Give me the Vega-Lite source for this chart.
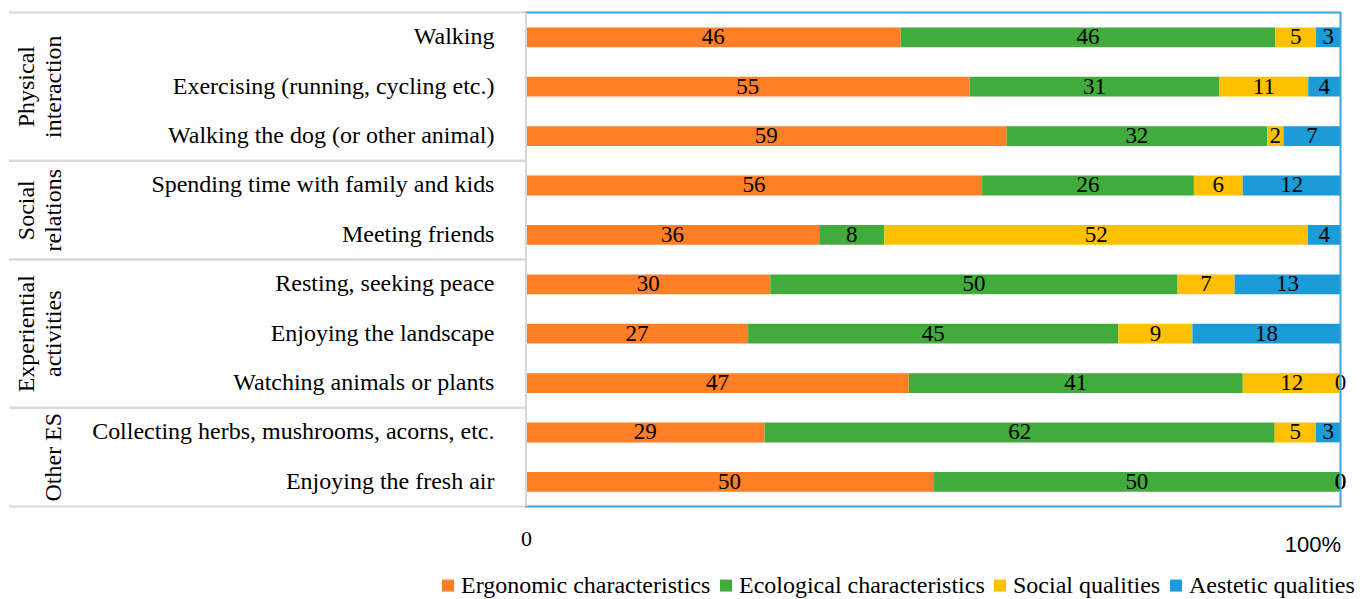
{
  "$schema": "https://vega.github.io/schema/vega-lite/v6.json",
  "width": 1331.5,
  "height": 494,
  "padding": {"left": 8, "top": 10.6, "right": 0, "bottom": 0},
  "background": "white",
  "config": {"view": {"stroke": null}, "font": "Liberation Serif"},
  "datasets": {
    "bars": [
      {"activity": "Walking", "quality": "Ergonomic characteristics", "value": 46},
      {"activity": "Walking", "quality": "Ecological characteristics", "value": 46},
      {"activity": "Walking", "quality": "Social qualities", "value": 5},
      {"activity": "Walking", "quality": "Aestetic qualities", "value": 3},
      {"activity": "Exercising (running, cycling etc.)", "quality": "Ergonomic characteristics", "value": 55},
      {"activity": "Exercising (running, cycling etc.)", "quality": "Ecological characteristics", "value": 31},
      {"activity": "Exercising (running, cycling etc.)", "quality": "Social qualities", "value": 11},
      {"activity": "Exercising (running, cycling etc.)", "quality": "Aestetic qualities", "value": 4},
      {"activity": "Walking the dog (or other animal)", "quality": "Ergonomic characteristics", "value": 59},
      {"activity": "Walking the dog (or other animal)", "quality": "Ecological characteristics", "value": 32},
      {"activity": "Walking the dog (or other animal)", "quality": "Social qualities", "value": 2},
      {"activity": "Walking the dog (or other animal)", "quality": "Aestetic qualities", "value": 7},
      {"activity": "Spending time with family and kids", "quality": "Ergonomic characteristics", "value": 56},
      {"activity": "Spending time with family and kids", "quality": "Ecological characteristics", "value": 26},
      {"activity": "Spending time with family and kids", "quality": "Social qualities", "value": 6},
      {"activity": "Spending time with family and kids", "quality": "Aestetic qualities", "value": 12},
      {"activity": "Meeting friends", "quality": "Ergonomic characteristics", "value": 36},
      {"activity": "Meeting friends", "quality": "Ecological characteristics", "value": 8},
      {"activity": "Meeting friends", "quality": "Social qualities", "value": 52},
      {"activity": "Meeting friends", "quality": "Aestetic qualities", "value": 4},
      {"activity": "Resting, seeking peace", "quality": "Ergonomic characteristics", "value": 30},
      {"activity": "Resting, seeking peace", "quality": "Ecological characteristics", "value": 50},
      {"activity": "Resting, seeking peace", "quality": "Social qualities", "value": 7},
      {"activity": "Resting, seeking peace", "quality": "Aestetic qualities", "value": 13},
      {"activity": "Enjoying the landscape", "quality": "Ergonomic characteristics", "value": 27},
      {"activity": "Enjoying the landscape", "quality": "Ecological characteristics", "value": 45},
      {"activity": "Enjoying the landscape", "quality": "Social qualities", "value": 9},
      {"activity": "Enjoying the landscape", "quality": "Aestetic qualities", "value": 18},
      {"activity": "Watching animals or plants", "quality": "Ergonomic characteristics", "value": 47},
      {"activity": "Watching animals or plants", "quality": "Ecological characteristics", "value": 41},
      {"activity": "Watching animals or plants", "quality": "Social qualities", "value": 12},
      {"activity": "Watching animals or plants", "quality": "Aestetic qualities", "value": 0},
      {"activity": "Collecting herbs, mushrooms, acorns, etc.", "quality": "Ergonomic characteristics", "value": 29},
      {"activity": "Collecting herbs, mushrooms, acorns, etc.", "quality": "Ecological characteristics", "value": 62},
      {"activity": "Collecting herbs, mushrooms, acorns, etc.", "quality": "Social qualities", "value": 5},
      {"activity": "Collecting herbs, mushrooms, acorns, etc.", "quality": "Aestetic qualities", "value": 3},
      {"activity": "Enjoying the fresh air", "quality": "Ergonomic characteristics", "value": 50},
      {"activity": "Enjoying the fresh air", "quality": "Ecological characteristics", "value": 50},
      {"activity": "Enjoying the fresh air", "quality": "Social qualities", "value": 0},
      {"activity": "Enjoying the fresh air", "quality": "Aestetic qualities", "value": 0}
    ],
    "groups": [
      {"group": "Physical\ninteraction", "first": "Walking", "anchor": "Exercising (running, cycling etc.)", "last": "Walking the dog (or other animal)", "rows": 3},
      {"group": "Social\nrelations", "first": "Spending time with family and kids", "anchor": "Spending time with family and kids", "last": "Meeting friends", "rows": 2},
      {"group": "Experiential\nactivities", "first": "Resting, seeking peace", "anchor": "Enjoying the landscape", "last": "Watching animals or plants", "rows": 3},
      {"group": "\nOther ES", "first": "Collecting herbs, mushrooms, acorns, etc.", "anchor": "Collecting herbs, mushrooms, acorns, etc.", "last": "Enjoying the fresh air", "rows": 2}
    ],
    "one": [{}]
  },
  "layer": [
    {
      "data": {"name": "bars"},
      "transform": [
        {"calculate": "indexof(['Ergonomic characteristics','Ecological characteristics','Social qualities','Aestetic qualities'], datum.quality)", "as": "qorder"}
      ],
      "mark": {"type": "bar"},
      "encoding": {
        "y": {
          "field": "activity", "type": "nominal",
          "scale": {
            "domain": ["Walking", "Exercising (running, cycling etc.)", "Walking the dog (or other animal)", "Spending time with family and kids", "Meeting friends", "Resting, seeking peace", "Enjoying the landscape", "Watching animals or plants", "Collecting herbs, mushrooms, acorns, etc.", "Enjoying the fresh air"],
            "paddingInner": 0.6, "paddingOuter": 0.3
          },
          "axis": null
        },
        "x": {
          "field": "value", "type": "quantitative", "stack": "normalize",
          "scale": {"domain": [-0.6347, 1], "nice": false, "zero": false},
          "axis": {
            "values": [0, 1],
            "title": null,
            "domain": false,
            "ticks": false,
            "grid": false,
            "labelFlush": true,
            "labelBound": false,
            "labelExpr": "datum.value == 1 ? '100%' : '0'",
            "labelFont": {"condition": {"test": "datum.value == 1", "value": "Liberation Sans"}, "value": "Liberation Serif"},
            "labelFontSize": 22,
            "labelColor": "black",
            "labelPadding": {"condition": {"test": "datum.value == 1", "value": 28}, "value": 22}
          }
        },
        "color": {
          "field": "quality", "type": "nominal",
          "scale": {
            "domain": ["Ergonomic characteristics", "Ecological characteristics", "Social qualities", "Aestetic qualities"],
            "range": ["#FF7F27", "#41AB3C", "#FFC000", "#1B9BD7"]
          },
          "legend": {
            "orient": "none", "legendX": 427, "legendY": 561,
            "direction": "horizontal", "title": null,
            "symbolType": "square", "symbolSize": 144, "symbolStrokeWidth": 0,
            "labelFont": "Liberation Serif", "labelFontSize": 24, "labelColor": "black",
            "columnPadding": 3, "labelOffset": 1, "padding": 0, "labelLimit": 0
          }
        },
        "order": {"field": "qorder", "type": "quantitative"}
      }
    },
    {
      "data": {"name": "bars"},
      "transform": [
        {"calculate": "indexof(['Ergonomic characteristics','Ecological characteristics','Social qualities','Aestetic qualities'], datum.quality)", "as": "qorder"}
      ],
      "mark": {"type": "text", "fontSize": 23, "font": "Liberation Serif", "color": "black", "baseline": "middle", "align": "center"},
      "encoding": {
        "y": {"field": "activity", "type": "nominal"},
        "x": {"field": "value", "type": "quantitative", "stack": "normalize", "bandPosition": 0.5},
        "text": {"field": "value", "type": "quantitative"},
        "order": {"field": "qorder", "type": "quantitative"}
      }
    },
    {
      "data": {"name": "bars"},
      "transform": [{"filter": "datum.quality == 'Ergonomic characteristics'"}],
      "mark": {"type": "text", "fontSize": 24, "font": "Liberation Serif", "color": "black", "baseline": "middle", "align": "right"},
      "encoding": {
        "y": {"field": "activity", "type": "nominal"},
        "x": {"datum": -0.0387, "type": "quantitative"},
        "text": {"field": "activity", "type": "nominal"}
      }
    },
    {
      "data": {"name": "groups"},
      "transform": [{"filter": "datum.rows == 3"}],
      "mark": {"type": "text", "fontSize": 24, "font": "Liberation Serif", "color": "black", "baseline": "middle", "align": "center", "angle": 270, "lineBreak": "\n", "lineHeight": 27},
      "encoding": {
        "y": {"field": "anchor", "type": "nominal", "bandPosition": 0.5},
        "x": {"datum": -0.612, "type": "quantitative"},
        "text": {"field": "group", "type": "nominal"}
      }
    },
    {
      "data": {"name": "groups"},
      "transform": [{"filter": "datum.rows == 2"}],
      "mark": {"type": "text", "fontSize": 24, "font": "Liberation Serif", "color": "black", "baseline": "middle", "align": "center", "angle": 270, "lineBreak": "\n", "lineHeight": 27},
      "encoding": {
        "y": {"field": "anchor", "type": "nominal", "bandPosition": 1.75},
        "x": {"datum": -0.612, "type": "quantitative"},
        "text": {"field": "group", "type": "nominal"}
      }
    },
    {
      "data": {"name": "groups"},
      "mark": {"type": "rule", "color": "#D9D9D9", "strokeWidth": 2},
      "encoding": {
        "y": {"field": "first", "type": "nominal", "bandPosition": -0.75},
        "x": {"datum": -0.6347, "type": "quantitative"},
        "x2": {"datum": 0}
      }
    },
    {
      "data": {"name": "groups"},
      "mark": {"type": "rule", "color": "#D9D9D9", "strokeWidth": 2},
      "encoding": {
        "y": {"field": "last", "type": "nominal", "bandPosition": 1.75},
        "x": {"datum": -0.6347, "type": "quantitative"},
        "x2": {"datum": 0}
      }
    },
    {
      "data": {"name": "one"},
      "mark": {"type": "rect", "fill": null, "fillOpacity": 0, "stroke": "#3DA2DE", "strokeWidth": 2},
      "encoding": {
        "x": {"datum": 0, "type": "quantitative"},
        "x2": {"datum": 1}
      }
    },
    {
      "data": {"name": "one"},
      "mark": {"type": "rule", "color": "#D9D9D9", "strokeWidth": 2},
      "encoding": {
        "x": {"datum": 0, "type": "quantitative"}
      }
    }
  ]
}
